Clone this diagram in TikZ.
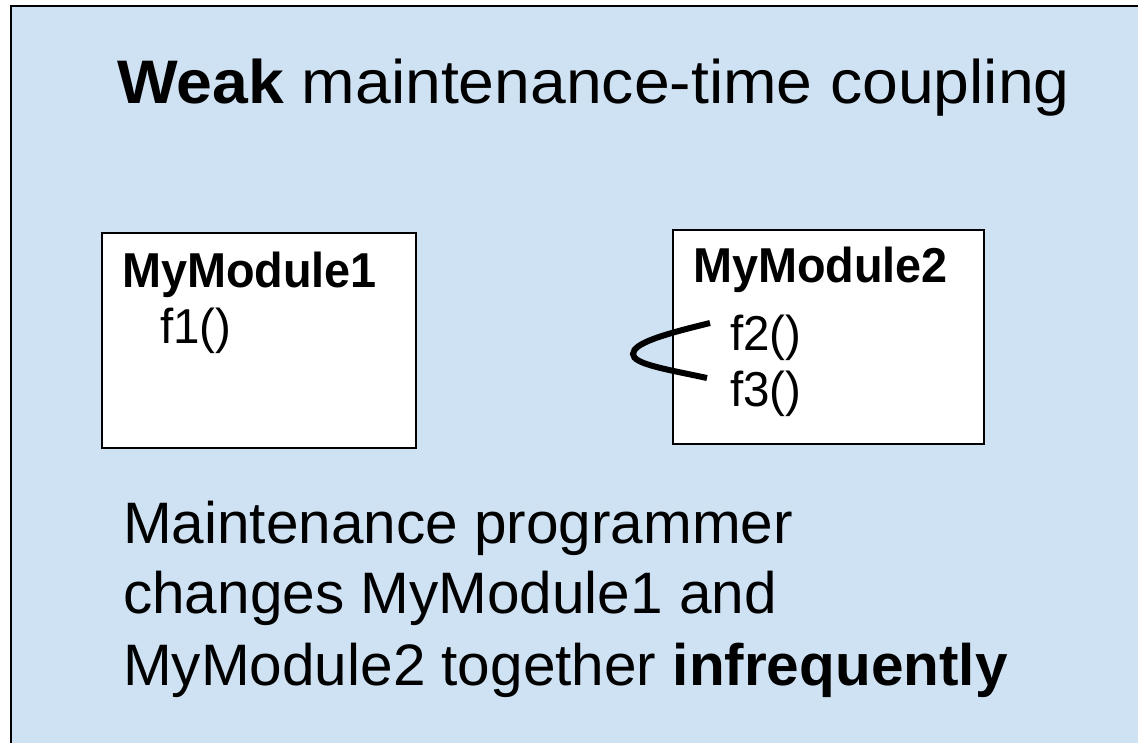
\documentclass[tikz,border=0pt]{standalone}
\usepackage{graphicx}
\usepackage{fontspec}
\setmainfont{Liberation Sans}
\definecolor{panelblue}{HTML}{CFE2F3}
\begin{document}
\begin{tikzpicture}[x=1pt,y=-1pt,
  txt/.style={inner sep=0pt,anchor=base west,text=black},
  title/.style={txt,font=\fontsize{61.5}{70}\selectfont},
  boxtxt/.style={txt,font=\fontsize{49}{56}\selectfont},
  bodytxt/.style={txt,font=\fontsize{58.5}{66}\selectfont},
  modbox/.style={draw=black,line width=1.4pt,fill=white},
  couple/.style={draw=black,line width=6pt}]
\useasboundingbox (0,0) rectangle (1138,743);
\clip (0,0) rectangle (1138,743);
\fill[white] (0,0) rectangle (1138,743);
\draw[fill=panelblue,line width=2pt] (11,6) rectangle (1160,760);
% title
\node[title] (title) at (117,104) {\scalebox{1.045}[1]{\textbf{Weak} maintenance-time coupling}};
% module boxes
\draw[modbox] (102,233) rectangle (416,448);
\draw[modbox] (673,230) rectangle (984,444);
\node[boxtxt] (m1) at (122,288) {\scalebox{0.955}[1]{\textbf{MyModule1}}};
\node[boxtxt] (f1) at (160,344) {\scalebox{0.97}[1]{f1()}};
\node[boxtxt] (m2) at (693,283) {\scalebox{0.955}[1]{\textbf{MyModule2}}};
\node[boxtxt] (f2) at (730,350) {\scalebox{0.97}[1]{f2()}};
\node[boxtxt] (f3) at (730,406) {\scalebox{0.97}[1]{f3()}};
% coupling mark
\coordinate (ca) at (710,323);
\coordinate (tip) at (633,354);
\coordinate (cb) at (707,378);
\draw[couple] (ca) .. controls (665,334) and (633,343) .. (tip)
  .. controls (633,364) and (665,369) .. (cb);
% body text
\node[bodytxt] (l1) at (123,543) {Maintenance programmer};
\node[bodytxt] (l2) at (123,613) {changes MyModule1 and};
\node[bodytxt] (l3) at (123,685) {MyModule2 together \textbf{infrequently}};
\end{tikzpicture}
\end{document}
